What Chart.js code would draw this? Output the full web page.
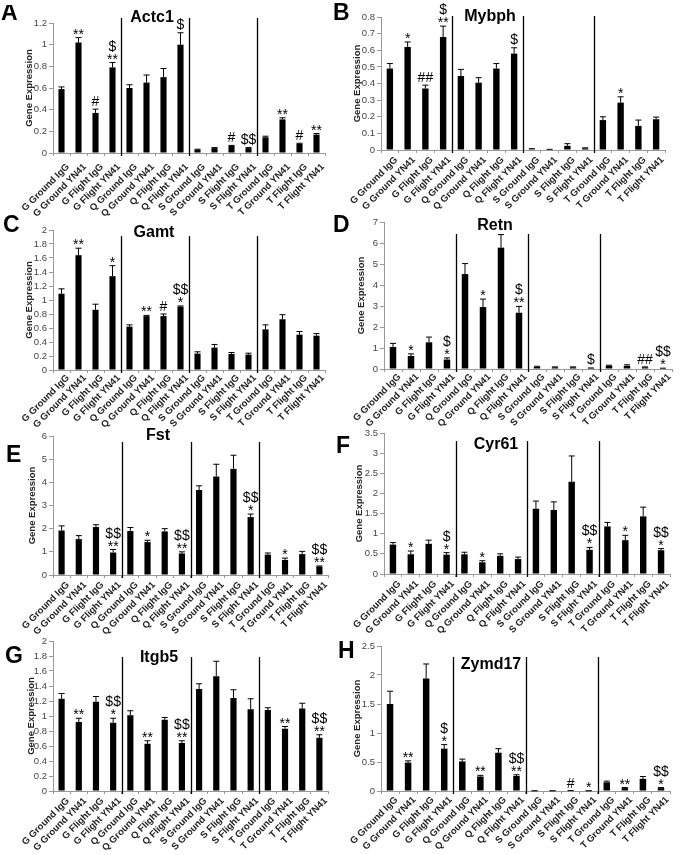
<!DOCTYPE html>
<html>
<head>
<meta charset="utf-8">
<script src="https://cdn.jsdelivr.net/npm/chart.js@4.4.1/dist/chart.umd.min.js"></script>
<style>
  body { margin: 0; background: #fff; width: 685px; height: 855px; position: relative; overflow: hidden; }
  .panel { position: absolute; }
</style>
</head>
<body>
<script>
const categories = [
  "G Ground IgG", "G Ground YN41", "G Flight IgG", "G Flight YN41",
  "Q Ground IgG", "Q Ground YN41", "Q Flight IgG", "Q Flight YN41",
  "S Ground IgG", "S Ground YN41", "S Flight IgG", "S Flight YN41",
  "T Ground IgG", "T Ground YN41", "T Flight IgG", "T Flight YN41"
];

// A - Actc1
const actc1Values = [0.59, 1.02, 0.37, 0.79, 0.60, 0.65, 0.70, 1.00, 0.03, 0.045, 0.065, 0.045, 0.145, 0.31, 0.085, 0.17];
const actc1Errors = [0.02, 0.045, 0.035, 0.045, 0.03, 0.07, 0.08, 0.11, 0.005, 0.005, 0.005, 0.005, 0.01, 0.015, 0.005, 0.01];
const actc1Sig = ["", "**", "#", "$\n**", "", "", "", "$", "", "", "#", "$$", "", "**", "#", "**"];
const actc1Ticks = ["0", "0.2", "0.4", "0.6", "0.8", "1", "1.2"];

// B - Mybph
const mybphValues = [0.49, 0.62, 0.37, 0.68, 0.445, 0.405, 0.49, 0.58, 0.005, 0.003, 0.025, 0.01, 0.18, 0.285, 0.145, 0.185];
const mybphErrors = [0.03, 0.03, 0.02, 0.065, 0.04, 0.03, 0.03, 0.035, 0.003, 0.001, 0.013, 0.003, 0.02, 0.035, 0.035, 0.013];
const mybphSig = ["", "*", "##", "$\n**", "", "", "", "$", "", "", "", "", "", "*", "", ""];
const mybphTicks = ["0", "0.1", "0.2", "0.3", "0.4", "0.5", "0.6", "0.7", "0.8"];

// C - Gamt
const gamtValues = [1.09, 1.64, 0.86, 1.34, 0.62, 0.77, 0.77, 0.905, 0.235, 0.32, 0.23, 0.22, 0.58, 0.725, 0.505, 0.49];
const gamtErrors = [0.07, 0.1, 0.08, 0.15, 0.025, 0.01, 0.03, 0.01, 0.025, 0.045, 0.02, 0.02, 0.065, 0.065, 0.045, 0.03];
const gamtSig = ["", "**", "", "*", "", "**", "#", "$$\n*", "", "", "", "", "", "", "", ""];
const gamtTicks = ["0", "0.2", "0.4", "0.6", "0.8", "1", "1.2", "1.4", "1.6", "1.8", "2"];

// D - Retn
const retnValues = [1.05, 0.62, 1.27, 0.45, 4.52, 2.95, 5.78, 2.68, 0.1, 0.08, 0.08, 0.04, 0.15, 0.15, 0.08, 0.03];
const retnErrors = [0.17, 0.1, 0.25, 0.08, 0.5, 0.38, 0.62, 0.3, 0.03, 0.02, 0.02, 0.01, 0.03, 0.05, 0.02, 0.01];
const retnSig = ["", "*", "", "$\n*", "", "*", "", "$\n**", "", "", "", "$", "", "", "##", "$$\n*"];
const retnTicks = ["0", "1", "2", "3", "4", "5", "6", "7"];

// E - Fst
const fstValues = [1.92, 1.55, 2.07, 0.97, 1.9, 1.42, 1.88, 0.93, 3.67, 4.25, 4.58, 2.5, 0.88, 0.65, 0.9, 0.37];
const fstErrors = [0.2, 0.15, 0.1, 0.13, 0.15, 0.08, 0.12, 0.07, 0.18, 0.53, 0.59, 0.13, 0.07, 0.08, 0.12, 0.02];
const fstSig = ["", "", "", "$$\n**", "", "*", "", "$$\n**", "", "", "", "$$\n*", "", "*", "", "$$\n**"];
const fstTicks = ["0", "1", "2", "3", "4", "5", "6"];

// F - Cyr61
const cyr61Values = [0.73, 0.49, 0.75, 0.48, 0.49, 0.29, 0.45, 0.37, 1.62, 1.59, 2.29, 0.6, 1.18, 0.84, 1.43, 0.59];
const cyr61Errors = [0.05, 0.08, 0.09, 0.05, 0.05, 0.04, 0.05, 0.05, 0.19, 0.2, 0.64, 0.06, 0.1, 0.12, 0.23, 0.04];
const cyr61Sig = ["", "*", "", "$\n*", "", "*", "", "", "", "", "", "$$\n*", "", "*", "", "$$\n*"];
const cyr61Ticks = ["0", "0.5", "1", "1.5", "2", "2.5", "3", "3.5"];

// G - Itgb5
const itgb5Values = [1.23, 0.92, 1.19, 0.91, 1.01, 0.63, 0.95, 0.64, 1.36, 1.53, 1.24, 1.09, 1.08, 0.83, 1.10, 0.71];
const itgb5Errors = [0.07, 0.05, 0.07, 0.06, 0.06, 0.04, 0.03, 0.03, 0.07, 0.2, 0.11, 0.14, 0.03, 0.03, 0.07, 0.04];
const itgb5Sig = ["", "**", "", "$$\n*", "", "**", "", "$$\n**", "", "", "", "", "", "**", "", "$$\n**"];
const itgb5Ticks = ["0", "0.2", "0.4", "0.6", "0.8", "1", "1.2", "1.4", "1.6", "1.8", "2"];

// H - Zymd17
const zymd17Values = [1.5, 0.49, 1.94, 0.73, 0.51, 0.25, 0.66, 0.26, 0.002, 0.002, 0.005, 0.002, 0.15, 0.05, 0.21, 0.05];
const zymd17Errors = [0.22, 0.03, 0.25, 0.07, 0.04, 0.02, 0.07, 0.02, 0.001, 0.001, 0.002, 0.001, 0.02, 0.01, 0.04, 0.01];
const zymd17Sig = ["", "**", "", "$\n*", "", "**", "", "$$\n**", "", "", "#", "*", "", "**", "", "$$\n*"];
const zymd17Ticks = ["0", "0.5", "1", "1.5", "2", "2.5"];

const FONT = '"Liberation Sans", Arial, sans-serif';

// page positions: y-axis x, top tick y, zero y, axis end x, y title x, gene title, panel letter, separator top
const panels = [
  { gene: "Actc1", letter: "A", values: actc1Values, errors: actc1Errors, sig: actc1Sig, ticks: actc1Ticks,
    col: 0, ax: 53, top: 23, zero: 153, right: 325, ylab: 29, title: [152, 22], mark: [1, 20], sepTop: 18, labelDrop: 9 },
  { gene: "Mybph", letter: "B", values: mybphValues, errors: mybphErrors, sig: mybphSig, ticks: mybphTicks,
    col: 1, ax: 381, top: 17, zero: 150, right: 665, ylab: 357, title: [490, 21], mark: [333, 20], sepTop: 16, labelDrop: 5 },
  { gene: "Gamt", letter: "C", values: gamtValues, errors: gamtErrors, sig: gamtSig, ticks: gamtTicks,
    col: 0, ax: 53, top: 230, zero: 370, right: 325, ylab: 29, title: [154, 237], mark: [3, 232], sepTop: 236, labelDrop: 3 },
  { gene: "Retn", letter: "D", values: retnValues, errors: retnErrors, sig: retnSig, ticks: retnTicks,
    col: 1, ax: 384, top: 222, zero: 369, right: 672, ylab: 361, title: [495, 230], mark: [333, 232], sepTop: 234, labelDrop: 3 },
  { gene: "Fst", letter: "E", values: fstValues, errors: fstErrors, sig: fstSig, ticks: fstTicks,
    col: 0, ax: 53, top: 436, zero: 575, right: 328, ylab: 32, title: [158, 440], mark: [6, 462], sepTop: 442, labelDrop: 5 },
  { gene: "Cyr61", letter: "F", values: cyr61Values, errors: cyr61Errors, sig: cyr61Sig, ticks: cyr61Ticks,
    col: 1, ax: 384, top: 433, zero: 574, right: 670, ylab: 359, title: [496, 449], mark: [336, 453], sepTop: 441, labelDrop: 5 },
  { gene: "Itgb5", letter: "G", values: itgb5Values, errors: itgb5Errors, sig: itgb5Sig, ticks: itgb5Ticks,
    col: 0, ax: 53, top: 641, zero: 791, right: 328, ylab: 31, title: [159, 662], mark: [5, 663], sepTop: 657, labelDrop: 5 },
  { gene: "Zymd17", letter: "H", values: zymd17Values, errors: zymd17Errors, sig: zymd17Sig, ticks: zymd17Ticks,
    col: 1, ax: 381, top: 646, zero: 791, right: 670, ylab: 357, title: [491, 669], mark: [338, 658], sepTop: 657, labelDrop: 4 }
];

const columns = [{ left: 0, width: 338 }, { left: 330, width: 355 }];

function overlayPlugin(p, ox, oy) {
  return {
    id: "overlay",
    afterDatasetsDraw(chart) {
      const ctx = chart.ctx;
      const xs = chart.scales.x;
      const ys = chart.scales.y;
      const meta = chart.getDatasetMeta(0);
      const zeroY = ys.getPixelForValue(0);
      ctx.save();

      // group separators
      ctx.strokeStyle = "#000";
      ctx.lineWidth = 1.3;
      [3.5, 7.5, 11.5].forEach((v) => {
        const x = Math.round(xs.getPixelForValue(v)) + 0.5;
        ctx.beginPath();
        ctx.moveTo(x, p.sepTop - oy);
        ctx.lineTo(x, zeroY + 3);
        ctx.stroke();
      });

      // error bars + significance marks
      ctx.lineWidth = 1;
      ctx.font = "14px " + FONT;
      ctx.textAlign = "center";
      ctx.textBaseline = "alphabetic";
      ctx.fillStyle = "#000";
      p.values.forEach((v, i) => {
        const x = meta.data[i].x;
        const y0 = ys.getPixelForValue(v);
        const y1 = ys.getPixelForValue(v + p.errors[i]);
        ctx.beginPath();
        ctx.moveTo(x, y0);
        ctx.lineTo(x, y1);
        ctx.moveTo(x - 3, y1);
        ctx.lineTo(x + 3, y1);
        ctx.stroke();

        if (p.sig[i]) {
          const lines = p.sig[i].split("\n");
          let bottom = y1 - 3;
          for (let k = lines.length - 1; k >= 0; k--) {
            const m = ctx.measureText(lines[k]);
            const base = bottom - m.actualBoundingBoxDescent;
            ctx.fillText(lines[k], x, base);
            bottom = base - m.actualBoundingBoxAscent - 2;
          }
        }
      });

      // category labels, slanted 45 degrees, ending at each tick
      ctx.font = "bold 9.5px " + FONT;
      ctx.fillStyle = "#222";
      ctx.textAlign = "right";
      ctx.textBaseline = "top";
      categories.forEach((label, i) => {
        ctx.save();
        ctx.translate(xs.getPixelForValue(i) + 3, zeroY + p.labelDrop);
        ctx.rotate(-Math.PI / 4);
        ctx.fillText(label, 0, 0);
        ctx.restore();
      });

      // gene title and panel letter
      ctx.fillStyle = "#000";
      ctx.textAlign = "center";
      ctx.textBaseline = "alphabetic";
      ctx.font = "bold 16px " + FONT;
      ctx.fillText(p.gene, p.title[0] - ox, p.title[1] - oy);
      ctx.textAlign = "left";
      ctx.font = "bold 23px " + FONT;
      ctx.fillText(p.letter, p.mark[0] - ox, p.mark[1] - oy);
      ctx.restore();
    }
  };
}

function makePanel(p) {
  const col = columns[p.col];
  const cy = p.top - 18;
  const ch = p.zero + 66 - cy;
  const padBottom = 2;
  const xh = cy + ch - p.zero - padBottom;
  const yw = p.ax - col.left;

  const div = document.createElement("div");
  div.className = "panel";
  div.style.left = col.left + "px";
  div.style.top = cy + "px";
  div.style.width = col.width + "px";
  div.style.height = ch + "px";
  const canvas = document.createElement("canvas");
  div.appendChild(canvas);
  document.body.appendChild(div);

  const max = parseFloat(p.ticks[p.ticks.length - 1]);
  const step = parseFloat(p.ticks[1]);

  new Chart(canvas, {
    type: "bar",
    data: {
      labels: categories,
      datasets: [{
        data: p.values,
        backgroundColor: "#000",
        barPercentage: 0.36,
        categoryPercentage: 1
      }]
    },
    options: {
      responsive: true,
      maintainAspectRatio: false,
      animation: false,
      layout: { padding: { left: 0, top: p.top - cy, right: col.left + col.width - p.right, bottom: padBottom } },
      plugins: { legend: { display: false }, tooltip: { enabled: false } },
      scales: {
        x: {
          grid: { drawOnChartArea: false, tickLength: 3, color: "#999", offset: true },
          border: { color: "#999" },
          ticks: { display: false, autoSkip: false },
          afterFit: (s) => { s.height = xh; }
        },
        y: {
          min: 0,
          max: max,
          ticks: {
            stepSize: step, padding: 2, color: "#444", autoSkip: false,
            font: { family: FONT, size: 9.5 },
            callback: (v, i) => p.ticks[i]
          },
          grid: { drawOnChartArea: false, tickLength: 4, color: "#999" },
          border: { color: "#999" },
          title: {
            display: true, text: "Gene Expression", color: "#222",
            font: { family: FONT, size: 9.5, weight: "bold", lineHeight: 1 },
            padding: { top: p.ylab - col.left - 4.75, bottom: 0 }
          },
          afterFit: (s) => { s.width = yw; }
        }
      }
    },
    plugins: [overlayPlugin(p, col.left, cy)]
  });
}

panels.forEach(makePanel);
</script>
</body>
</html>
